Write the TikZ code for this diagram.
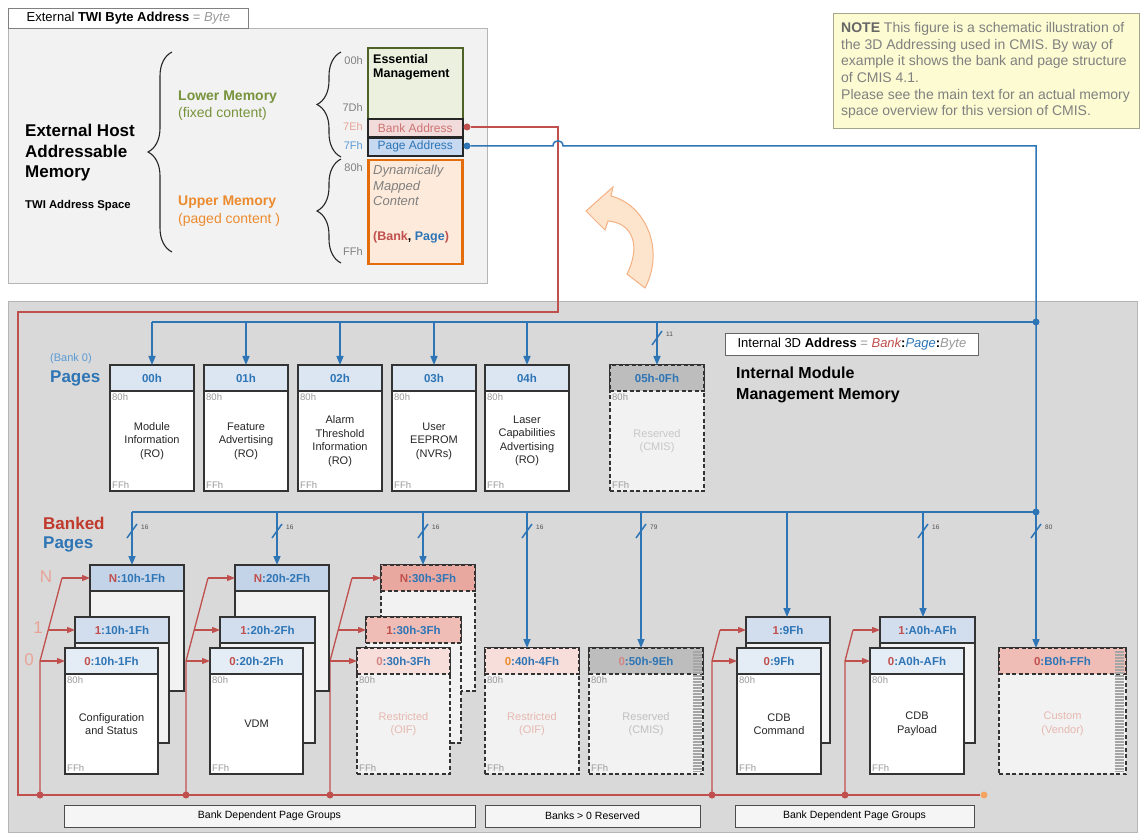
\documentclass[tikz,border=0pt]{standalone}
\usepackage{fontspec}
\setmainfont{Liberation Sans}
\usetikzlibrary{arrows.meta,calc,decorations.pathreplacing}
\definecolor{redc}{HTML}{C0504D}
\definecolor{redt}{HTML}{C0392B}
\definecolor{bluec}{HTML}{2E75B6}
\definecolor{bluel}{HTML}{5B9BD5}
\definecolor{lred}{HTML}{E8A397}
\definecolor{pinkt}{HTML}{E6B8B0}
\definecolor{hblue}{HTML}{DCE6F2}
\definecolor{hzero}{HTML}{E4ECF6}
\definecolor{hone}{HTML}{D2DEEE}
\definecolor{hN}{HTML}{C3D3E8}
\definecolor{rN}{HTML}{E8A8A0}
\definecolor{rone}{HTML}{EFBDB6}
\definecolor{rzero}{HTML}{F8DEDA}
\definecolor{hgray}{HTML}{BDBDBD}
\definecolor{bgray}{HTML}{F2F2F2}
\definecolor{lowbg}{HTML}{D9D9D9}
\definecolor{upbg}{HTML}{F2F2F2}
\definecolor{framec}{HTML}{B5B5B5}
\definecolor{olivet}{HTML}{77933C}
\definecolor{orngt}{HTML}{EC8B2E}
\definecolor{orngb}{HTML}{E46C0A}
\definecolor{orfill}{HTML}{FDEADA}
\definecolor{grnfill}{HTML}{EBF1DE}
\definecolor{grnbd}{HTML}{4F6228}
\definecolor{pinkf}{HTML}{F2DCDB}
\definecolor{bluef}{HTML}{C6D9F1}
\definecolor{notef}{HTML}{FCFBD2}
\definecolor{noteb}{HTML}{A5A58C}
\definecolor{notet}{HTML}{808080}
\definecolor{arrf}{HTML}{FDE4CC}
\definecolor{arrd}{HTML}{F4B183}
\definecolor{dotor}{HTML}{F4A460}
\newcommand\pagebox[9]{%
 \node[pbody,#5,minimum width=#4,anchor=north] (#1) at (#2,#3) {};
 \node[phead,#6,minimum width=#4,anchor=north] (#1h) at (#2,#3) {#7};
 \node[addr,anchor=north west] (#1a) at (#1h.south west) {80h};
 \node[addr,anchor=south west] (#1f) at (#1.south west) {FFh};
 \node[btxt,text=#9] (#1t) at ($(#1h.south)!0.5!(#1.south)$) {#8};
}
\newcommand\backbox[7]{%
 \node[pbody,#5,minimum width=#4,anchor=north] (#1) at (#2,#3) {};
 \node[phead,#6,minimum width=#4,anchor=north] (#1h) at (#2,#3) {#7};
}
\newcommand\busslash[4]{%
 \draw[bl] (#1-5,#2+7) -- (#1+5,#2-7);
 \node[slabel,anchor=west] (#4) at (#1+9,#2-4) {#3};
}
\begin{document}
\begin{tikzpicture}[x=1pt,y=-1pt,
 phead/.style={draw=black!80,line width=1.2pt,minimum height=26,inner sep=0pt,outer sep=0pt,font=\fontsize{11.5}{13}\selectfont\bfseries,text=bluec},
 pbody/.style={draw=black!80,line width=1.2pt,minimum height=126,inner sep=0pt,outer sep=0pt,fill=white},
 addr/.style={font=\fontsize{9.5}{11}\selectfont,text=black!40,inner sep=2pt},
 btxt/.style={font=\fontsize{11}{13.5}\selectfont,align=center,inner sep=0pt},
 dsh/.style={dash pattern=on 4pt off 2.5pt},
 bl/.style={draw=bluec,line width=1.5pt},
 blA/.style={bl,-{Triangle[width=7pt,length=9pt]}},
 rd/.style={draw=redc,line width=1.3pt},
 rdA/.style={rd,-{Triangle[width=6pt,length=8pt]}},
 dotn/.style={circle,inner sep=0pt,minimum size=7pt},
 slabel/.style={font=\fontsize{6.5}{7}\selectfont,text=black!70,inner sep=0pt},
 lblbox/.style={draw=black!70,line width=0.8pt,fill=black!4,minimum height=22,inner sep=0pt,font=\fontsize{10.5}{12}\selectfont},
 hatch/.style={draw=black!35,line width=9pt,dash pattern=on 1.5pt off 1.5pt},
 brc/.style={draw=black!85,line width=1.1pt,decorate,decoration={brace,amplitude=24pt}},
 adl/.style={font=\fontsize{11}{12}\selectfont,text=black!50,inner sep=0pt,anchor=east},
]
\useasboundingbox (0,0) rectangle (1141,834);
\fill[white] (0,0) rectangle (1141,834);

% ---------- backgrounds ----------
\node[draw=framec,fill=upbg,line width=0.8pt,minimum width=479,minimum height=255,anchor=north west,inner sep=0pt] (ext) at (8,28) {};
\node[draw=black!50,fill=white,line width=0.8pt,minimum width=240,minimum height=20,anchor=north west,inner sep=0pt,font=\fontsize{13}{14}\selectfont] (exth) at (8,8) {External \textbf{TWI Byte Address} {\color{black!40}=} {\color{black!40}\itshape Byte}};
\node[draw=framec,fill=lowbg,line width=0.8pt,minimum width=1129,minimum height=531,anchor=north west,inner sep=0pt] (low) at (8,301) {};
\node[draw=noteb,fill=notef,line width=0.8pt,minimum width=306,minimum height=115,anchor=north west,inner sep=0pt] (note) at (833,13) {};
\node[anchor=north west,align=left,inner sep=0pt,text=notet,font=\fontsize{14}{16.7}\selectfont] (notet) at (841,22) {{\color{black!60}\textbf{NOTE}} This figure is a schematic illustration of\\the 3D Addressing used in CMIS. By way of\\example it shows the bank and page structure\\of CMIS 4.1.\\Please see the main text for an actual memory\\space overview for this version of CMIS.};

% ---------- top-left contents ----------
\node[anchor=west,align=left,inner sep=0pt,font=\fontsize{17}{20.5}\selectfont\bfseries] (ehm) at (25,153) {External Host\\Addressable\\Memory};
\node[anchor=west,inner sep=0pt,font=\fontsize{11.3}{13}\selectfont\bfseries] (tas) at (25,206) {TWI Address Space};
\draw[brc] (172,252) -- (172,52);
\node[anchor=west,inner sep=0pt,text=olivet,font=\fontsize{14}{16}\selectfont\bfseries] (lm) at (178,97) {Lower Memory};
\node[anchor=west,inner sep=0pt,text=olivet,font=\fontsize{14}{16}\selectfont] (lmf) at (178,114) {(fixed content)};
\node[anchor=west,inner sep=0pt,text=orngt,font=\fontsize{14}{16}\selectfont\bfseries] (um) at (178,202) {Upper Memory};
\node[anchor=west,inner sep=0pt,text=orngt,font=\fontsize{14}{16}\selectfont] (ump) at (178,220) {(paged content )};
\draw[brc] (341,157) -- (341,52);
\draw[brc] (341,263) -- (341,159);
\node[adl] (a00) at (363,61) {00h};
\node[adl] (a7d) at (363,108) {7Dh};
\node[adl,text=lred] (a7e) at (363,127) {7Eh};
\node[adl,text=bluel] (a7f) at (363,146) {7Fh};
\node[adl] (a80) at (363,168) {80h};
\node[adl] (aff) at (363,252) {FFh};
\node[draw=grnbd,line width=2pt,fill=grnfill,minimum width=95,minimum height=108,anchor=north west,inner sep=0pt] (ess) at (367,47) {};
\node[anchor=north west,align=left,inner sep=0pt,font=\fontsize{12.5}{14.5}\selectfont\bfseries] (esst) at (373,54) {Essential\\Management};
\node[draw=black!85,line width=1.6pt,fill=pinkf,minimum width=95,minimum height=18,anchor=north west,inner sep=0pt,text=redc!80,font=\fontsize{12}{13}\selectfont] (bank) at (367,118) {Bank Address};
\node[draw=black!85,line width=1.6pt,fill=bluef,minimum width=95,minimum height=18,anchor=north west,inner sep=0pt,text=bluec,font=\fontsize{12}{13}\selectfont] (page) at (367,137) {Page Address};
\node[draw=orngb,line width=2.5pt,fill=orfill,minimum width=94,minimum height=104,anchor=north west,inner sep=0pt] (upm) at (367,159) {};
\node[anchor=north west,align=left,inner sep=0pt,text=black!50,font=\fontsize{13}{15.5}\selectfont\itshape] (dyn) at (373,165) {Dynamically\\Mapped\\Content};
\node[anchor=west,inner sep=0pt,font=\fontsize{12.5}{14}\selectfont\bfseries] (bp) at (373,237) {{\color{redc}(Bank}, {\color{bluec}Page}{\color{redc})}};

% ---------- curved arrow ----------
\draw[draw=arrd,fill=arrf,line width=1pt] (586,211) -- (613,187) -- (611,196) .. controls (646,205) and (665,250) .. (645,288) -- (627,274) .. controls (641,246) and (633,223) .. (608,221) -- (605,230) -- cycle;

% ---------- lower labels ----------
\node[draw=black!60,fill=white,line width=0.8pt,minimum width=253,minimum height=22,anchor=north west,inner sep=0pt,font=\fontsize{13}{14}\selectfont] (i3d) at (725,333) {Internal 3D \textbf{Address} {\color{black!40}=} {\color{redc}\itshape Bank}\textbf{:}{\color{bluec}\itshape Page}\textbf{:}{\color{black!40}\itshape Byte}};
\node[anchor=north west,align=left,inner sep=0pt,font=\fontsize{16}{21}\selectfont\bfseries] (imm) at (736,367) {Internal Module\\Management Memory};
\node[anchor=west,inner sep=0pt,text=bluel,font=\fontsize{11}{12}\selectfont] (bk0) at (50,359) {(Bank 0)};
\node[anchor=west,inner sep=0pt,text=bluec,font=\fontsize{17}{18}\selectfont\bfseries] (pg0) at (50,378) {Pages};
\node[anchor=west,inner sep=0pt,text=redt,font=\fontsize{17}{18}\selectfont\bfseries] (bkd) at (43,523) {Banked};
\node[anchor=west,inner sep=0pt,text=bluec,font=\fontsize{17}{18}\selectfont\bfseries] (bkp) at (43,544) {Pages};
\node[inner sep=0pt,text=lred,font=\fontsize{17}{18}\selectfont] (lN) at (46,577) {N};
\node[inner sep=0pt,text=lred,font=\fontsize{17}{18}\selectfont] (l1) at (38,628) {1};
\node[inner sep=0pt,text=lred,font=\fontsize{17}{18}\selectfont] (l0) at (29,660) {0};

% ---------- dots ----------
\node[dotn,fill=redc] (rdot) at (467,127) {};
\node[dotn,fill=bluec] (bdot) at (467,146) {};
\node[dotn,fill=dotor] (odot) at (984,795) {};
\coordinate (bT) at (1036,322);
\coordinate (bB) at (1036,512);
\coordinate (rA) at (558,127);
\coordinate (rB) at (558,312);
\coordinate (rC) at (18,312);
\coordinate (rD) at (18,795);

% ---------- main wires ----------
\draw[rd] (rdot) -- (rA) -- (rB) -- (rC) -- (rD) -- (odot);
\draw[bl] (bdot) -- (553,146) .. controls (553,139) and (563,139) .. (563,146) -- (1036,146) -- (bT) -- (bB);
\draw[bl] (bT) -- (152,322);
\draw[bl] (bB) -- (132,512);

% red fans
\foreach \r in {40,186,330} {\draw[rd] (\r,795) -- (\r,661) -- (\r+22,578);}
\foreach \r in {712,845} {\draw[rd] (\r,795) -- (\r,661) -- (\r+8,630);}

% ---------- top row pages ----------
\pagebox{p00}{152}{365}{84}{}{fill=hblue}{00h}{Module\\Information\\(RO)}{black!85}
\pagebox{p01}{246}{365}{84}{}{fill=hblue}{01h}{Feature\\Advertising\\(RO)}{black!85}
\pagebox{p02}{340}{365}{84}{}{fill=hblue}{02h}{Alarm\\Threshold\\Information\\(RO)}{black!85}
\pagebox{p03}{434}{365}{84}{}{fill=hblue}{03h}{User\\EEPROM\\(NVRs)}{black!85}
\pagebox{p04}{527}{365}{84}{}{fill=hblue}{04h}{Laser\\Capabilities\\Advertising\\(RO)}{black!85}
\pagebox{p05}{657}{365}{94}{dsh,fill=bgray}{dsh,fill=hgray}{05h-0Fh}{Reserved\\(CMIS)}{black!22}

\foreach \n in {p00,p01,p02,p03,p04,p05} {\draw[blA] (\n h.north |- bT) -- (\n h.north);}
\busslash{657}{338}{11}{s05}

% ---------- banked pages ----------
\backbox{cN}{137}{565}{94}{fill=bgray}{fill=hN}{{\color{redc}N}:10h-1Fh}
\backbox{cA}{122}{617}{94}{fill=bgray}{fill=hone}{{\color{redc}1}:10h-1Fh}
\pagebox{cZ}{111.5}{648}{93}{}{fill=hzero}{{\color{redc}0}:10h-1Fh}{Configuration\\and Status}{black!85}

\backbox{vN}{282}{565}{94}{fill=bgray}{fill=hN}{{\color{redc}N}:20h-2Fh}
\backbox{vA}{267.5}{617}{95}{fill=bgray}{fill=hone}{{\color{redc}1}:20h-2Fh}
\pagebox{vZ}{256.5}{648}{93}{}{fill=hzero}{{\color{redc}0}:20h-2Fh}{VDM}{black!85}

\backbox{tN}{428}{565}{94}{dsh,fill=bgray}{dsh,fill=rN}{{\color{redc}N}:30h-3Fh}
\backbox{tA}{413.5}{617}{95}{dsh,fill=bgray}{dsh,fill=rone}{{\color{redc}1}:30h-3Fh}
\pagebox{tZ}{403.5}{648}{93}{dsh,fill=bgray}{dsh,fill=rzero}{{\color{redc!70}0}:30h-3Fh}{Restricted\\(OIF)}{pinkt}

\pagebox{fZ}{532}{648}{94}{dsh,fill=bgray}{dsh,fill=rzero}{{\color{orngt}0}:40h-4Fh}{Restricted\\(OIF)}{pinkt}
\pagebox{gZ}{646}{648}{114}{dsh,fill=bgray}{dsh,fill=hgray}{{\color{redc!70}0}:50h-9Eh}{Reserved\\(CMIS)}{black!25}
\draw[hatch] (697,651) -- (697,772);

\backbox{dA}{788}{617}{84}{fill=bgray}{fill=hone}{{\color{redc}1}:9Fh}
\pagebox{dZ}{779}{648}{84}{}{fill=hzero}{{\color{redc}0}:9Fh}{CDB\\Command}{black!85}

\backbox{aA}{927.5}{617}{95}{fill=bgray}{fill=hone}{{\color{redc}1}:A0h-AFh}
\pagebox{aZ}{917}{648}{94}{}{fill=hzero}{{\color{redc}0}:A0h-AFh}{CDB\\Payload}{black!85}

\backbox{uZ}{1062.5}{648}{127}{dsh,fill=bgray}{dsh,fill=rone}{{\color{redc}0}:B0h-FFh}
\node[btxt,text=pinkt] (uZt) at ($(uZh.south)!0.5!(uZ.south)$) {Custom\\(Vendor)};
\draw[hatch] (1119,651) -- (1119,772);

% banked blue drops
\coordinate (d1) at (132,512);
\coordinate (d2) at (277,512);
\coordinate (d3) at (423,512);
\coordinate (d4) at (527,512);
\coordinate (d5) at (641,512);
\coordinate (d6) at (787,512);
\coordinate (d7) at (923,512);
\draw[blA] (d1) -- (d1 |- cNh.north);
\draw[blA] (d2) -- (d2 |- vNh.north);
\draw[blA] (d3) -- (d3 |- tNh.north);
\draw[blA] (d4) -- (d4 |- fZh.north);
\draw[blA] (d5) -- (d5 |- gZh.north);
\draw[blA] (d6) -- (d6 |- dAh.north);
\draw[blA] (d7) -- (d7 |- aAh.north);
\draw[blA] (bB) -- (bB |- uZh.north);
\busslash{132}{531}{16}{s1}
\busslash{277}{531}{16}{s2}
\busslash{423}{531}{16}{s3}
\busslash{527}{531}{16}{s4}
\busslash{641}{531}{79}{s5}
\busslash{923}{531}{16}{s7}
\busslash{1036}{531}{80}{s8}

% red arrows into banks
\draw[rdA] (62,578) -- (cNh.west);
\draw[rdA] (48,630) -- (cAh.west);
\draw[rdA] (40,661) -- (cZh.west);
\draw[rdA] (208,578) -- (vNh.west);
\draw[rdA] (194,630) -- (vAh.west);
\draw[rdA] (186,661) -- (vZh.west);
\draw[rdA] (352,578) -- (tNh.west);
\draw[rdA] (338,630) -- (tAh.west);
\draw[rdA] (330,661) -- (tZh.west);
\draw[rdA] (720,630) -- (dAh.west);
\draw[rdA] (712,661) -- (dZh.west);
\draw[rdA] (853,630) -- (aAh.west);
\draw[rdA] (845,661) -- (aZh.west);

% dots on buses
\node[dotn,fill=bluec] (bdT) at (bT) {};
\node[dotn,fill=bluec] (bdB) at (bB) {};
\foreach \r in {40,186,330,712,845} {\node[dotn,fill=redc] at (\r,795) {};}

% bottom group labels
\node[lblbox,minimum width=411] (g1) at (269.5,816) {Bank Dependent Page Groups};
\node[lblbox,minimum width=215] (g2) at (592.5,816) {Banks > 0 Reserved};
\node[lblbox,minimum width=239] (g3) at (854.5,816) {Bank Dependent Page Groups};
\end{tikzpicture}
\end{document}
